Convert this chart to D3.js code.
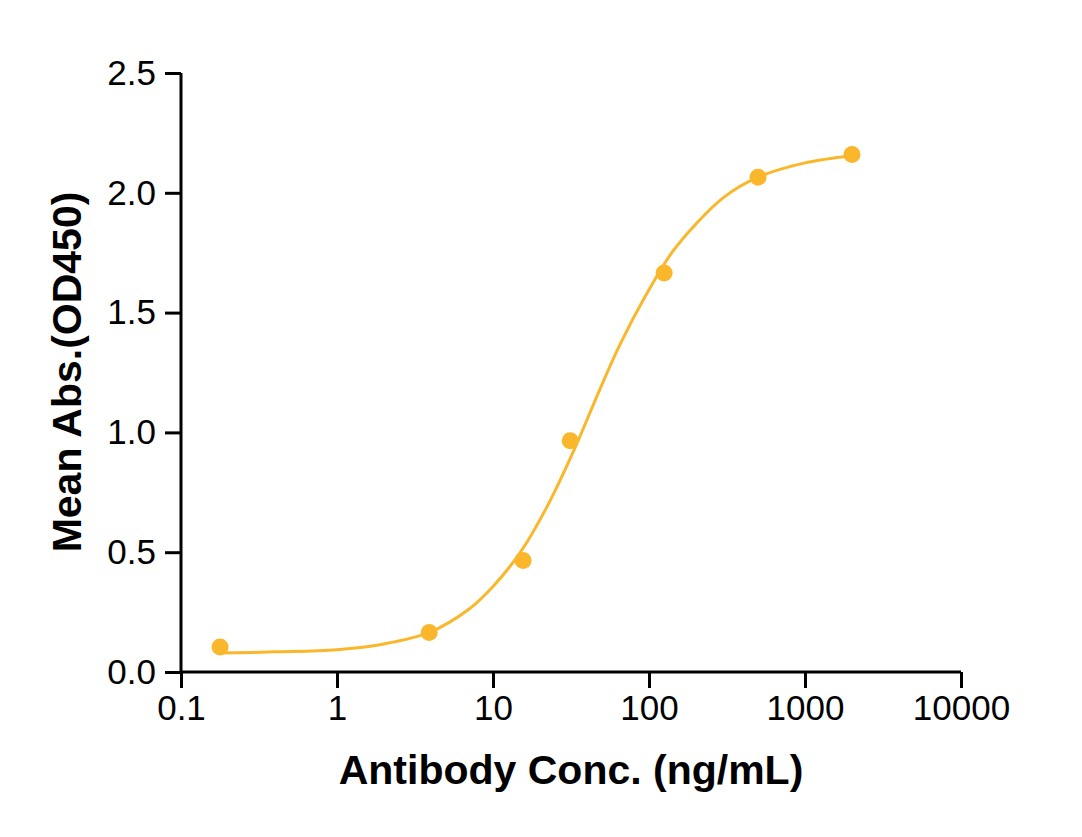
<!DOCTYPE html>
<html>
<head>
<meta charset="utf-8">
<script src="https://cdn.jsdelivr.net/npm/d3@7"></script>
<style>
  body { margin: 0; background: #fff; }
  svg { display: block; font-family: "Liberation Sans", Arial, sans-serif; }
</style>
</head>
<body>
<div id="chart"></div>
<script>
// measured points (concentration in ng/mL, mean OD450)
const conc = [0.178, 3.9, 15.6, 31.25, 125, 500, 2000];
const absorb = [0.104, 0.165, 0.465, 0.965, 1.665, 2.065, 2.16];

// fitted curve
const fitConc = [0.178, 0.4, 1, 2, 3.9, 7, 10, 15, 22, 33, 47, 65, 95, 140, 200, 300, 500, 1000, 2000];
const fitAbs = [0.079, 0.084, 0.093, 0.117, 0.165, 0.262, 0.357, 0.50, 0.685, 0.925, 1.16, 1.365, 1.57, 1.75, 1.87, 1.98, 2.065, 2.125, 2.155];

const xTicks = [0.1, 1, 10, 100, 1000, 10000];
const yTicks = [0, 0.5, 1.0, 1.5, 2.0, 2.5];

const color = "#FBB72B";

// set the dimensions and margins of the graph
const margin = { top: 73, right: 121, bottom: 165, left: 181 },
    width = 1082 - margin.left - margin.right,
    height = 837 - margin.top - margin.bottom;

const svg = d3.select("#chart")
    .append("svg")
    .attr("width", 1082)
    .attr("height", 837)
    .append("g")
    .attr("transform", `translate(${margin.left},${margin.top})`);

const x = d3.scaleLog()
    .domain([0.1, 10000])
    .range([0, width]);

const y = d3.scaleLinear()
    .domain([0, 2.5])
    .range([height, 0]);

// X axis
const xAxis = svg.append("g")
    .attr("transform", `translate(0, ${height})`)
    .call(d3.axisBottom(x)
        .tickValues(xTicks)
        .tickFormat(d => String(d))
        .tickSize(16)
        .tickPadding(8));

// Y axis
const yAxis = svg.append("g")
    .call(d3.axisLeft(y)
        .tickValues(yTicks)
        .tickFormat(d3.format(".1f"))
        .tickSize(16)
        .tickPadding(9));

[xAxis, yAxis].forEach(ax => {
    ax.select(".domain").attr("stroke", "#000").attr("stroke-width", 3);
    ax.selectAll(".tick line").attr("stroke", "#000").attr("stroke-width", 3);
    ax.selectAll("text")
        .attr("fill", "#000")
        .style("font-size", "35px")
        .style("font-family", "'Liberation Sans', Arial, sans-serif");
});
xAxis.select(".domain").attr("d", `M0,0H${width}`);
yAxis.select(".domain").attr("d", `M0,0V${height}`);
xAxis.selectAll("text").attr("dy", "0.72em").attr("y", 23);

// fitted curve
const line = d3.line()
    .x((d, i) => x(fitConc[i]))
    .y(d => y(d))
    .curve(d3.curveCatmullRom.alpha(0.5));

svg.append("path")
    .datum(fitAbs)
    .attr("fill", "none")
    .attr("stroke", color)
    .attr("stroke-width", 3)
    .attr("d", line);

// points
svg.selectAll("circle.pt")
    .data(absorb)
    .join("circle")
    .attr("class", "pt")
    .attr("cx", (d, i) => x(conc[i]))
    .attr("cy", d => y(d))
    .attr("r", 8.5)
    .attr("fill", color);

// axis titles
svg.append("text")
    .attr("x", 571 - margin.left)
    .attr("y", 784 - margin.top)
    .attr("text-anchor", "middle")
    .attr("style", "fill: #000; font-size: 41px; font-weight: bold")
    .text("Antibody Conc. (ng/mL)");

svg.append("text")
    .attr("transform", `translate(${81 - margin.left}, ${372 - margin.top}) rotate(-90)`)
    .attr("text-anchor", "middle")
    .attr("style", "fill: #000; font-size: 41px; font-weight: bold")
    .text("Mean Abs.(OD450)");
</script>
</body>
</html>
